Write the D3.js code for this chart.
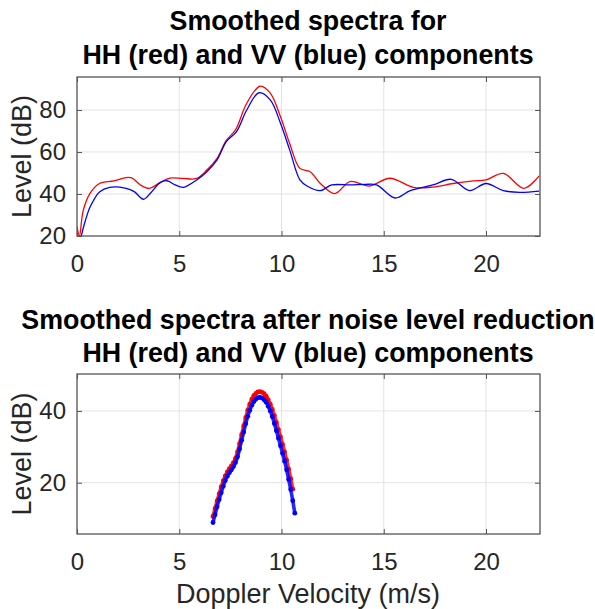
<!DOCTYPE html>
<html>
<head>
<meta charset="utf-8">
<script src="https://cdn.jsdelivr.net/npm/d3@7"></script>
<style>
  body { margin: 0; background: #fff; }
  text { font-family: 'Liberation Sans', Arial, Helvetica, sans-serif; fill: #262626; }
  .title { font-weight: bold; font-size: 26.8px; fill: #000; }
  .axis text { font-size: 24px; }
  .axis path, .axis line { stroke: #555; }
</style>
</head>
<body>
<div id="chart"></div>
<script>
// top panel: smoothed spectra, [velocity m/s, level dB]
var hhSmooth = [[0, 24.4], [0.12, 20.2], [0.3, 32], [0.65, 40.5], [1.1, 45], [1.8, 46.2], [2.4, 47.8], [2.7, 47.6],
  [3.1, 44.3], [3.55, 42.7], [4.05, 45.4], [4.55, 47.6], [5.2, 47.4], [5.85, 47.4], [6.35, 51.4], [6.85, 57],
  [7.3, 65.5], [7.75, 70.5], [8.3, 83.2], [8.95, 91.3], [9.45, 88], [9.95, 76.8], [10.4, 64], [10.9, 52.2],
  [11.4, 50.6], [11.9, 45], [12.6, 40.2], [13.35, 45.9], [14.3, 43.8], [15.3, 47.5], [16.45, 43.2], [17.4, 43.3],
  [18.4, 45], [19.4, 46.2], [20.0, 46.7], [20.85, 49.8], [21.85, 42.7], [22.6, 48.6]]
var vvSmooth = [[0.2, 19.7], [0.4, 27], [0.65, 34], [1.1, 41], [1.6, 43.2], [2.4, 42.7], [2.8, 41.1], [3.25, 37.5],
  [3.6, 40.5], [4.05, 45.3], [4.4, 46.3], [4.8, 44.3], [5.2, 43.2], [5.85, 46.7], [6.35, 50.6], [6.85, 56.2],
  [7.3, 64.9], [7.8, 69.7], [8.3, 80], [8.9, 88.2], [9.45, 84.8], [9.95, 73.7], [10.4, 61], [10.9, 46.7],
  [11.25, 43.8], [11.9, 41.6], [12.45, 44.3], [13.35, 44.3], [14.1, 44.6], [14.65, 44.3], [15.55, 38.1], [16.3, 41.6],
  [17.4, 44.3], [18.3, 47], [19.2, 41.6], [20.0, 45], [20.85, 41.6], [21.65, 40.8], [22.6, 41.4]]

// bottom panel: after noise reduction (dense dot markers)
var redVel = [6.65, 6.75, 6.85, 6.95, 7.05, 7.15, 7.25, 7.35, 7.45, 7.55, 7.65, 7.75, 7.85, 7.95, 8.05, 8.15, 8.25,
  8.35, 8.45, 8.55, 8.65, 8.75, 8.85, 8.95, 9.05, 9.15, 9.25, 9.35, 9.45, 9.55, 9.65, 9.75, 9.85, 9.95, 10.05,
  10.15, 10.25, 10.35, 10.45, 10.55]
var redLevel = [10.6, 12.8, 14.9, 16.9, 18.8, 20.5, 21.9, 23.0, 23.9, 24.7, 25.6, 26.8, 28.6, 30.9, 33.4, 35.8,
  38.1, 40.2, 41.9, 43.3, 44.3, 44.9, 45.3, 45.4, 45.2, 44.8, 44.1, 43.1, 41.9, 40.4, 38.7, 36.8, 34.8, 32.8,
  30.7, 28.6, 26.3, 23.8, 21.1, 18.2]
var blueVel = [6.65, 6.75, 6.85, 6.95, 7.05, 7.15, 7.25, 7.35, 7.45, 7.55, 7.65, 7.75, 7.85, 7.95, 8.05, 8.15, 8.25,
  8.35, 8.45, 8.55, 8.65, 8.75, 8.85, 8.95, 9.05, 9.15, 9.25, 9.35, 9.45, 9.55, 9.65, 9.75, 9.85, 9.95, 10.05,
  10.15, 10.25, 10.35, 10.45, 10.55, 10.65]
var blueLevel = [8.9, 11.1, 13.3, 15.3, 17.2, 19.0, 20.6, 21.8, 22.8, 23.6, 24.5, 25.6, 27.2, 29.4, 31.8, 34.1,
  36.4, 38.5, 40.2, 41.6, 42.6, 43.3, 43.7, 43.8, 43.6, 43.1, 42.4, 41.3, 40.0, 38.4, 36.5, 34.5, 32.4, 30.3,
  28.2, 26.0, 23.6, 20.9, 18.1, 15.0, 11.5]

var xTicks = [0, 5, 10, 15, 20]
var topYTicks = [20, 40, 60, 80]
var bottomYTicks = [20, 40]

var width = 595
var height = 609

var svg = d3.select('#chart')
  .append('svg')
  .attr('width', width)
  .attr('height', height)

var xScale = d3.scaleLinear().domain([0, 22.64]).range([77, 540])

function drawPanel (opts) {
  var y = d3.scaleLinear().domain(opts.yDomain).range([opts.bottom, opts.top])
  var g = svg.append('g')

  // grid
  g.selectAll('.vgrid').data(xTicks.slice(1)).enter().append('line')
    .attr('x1', d => xScale(d)).attr('x2', d => xScale(d))
    .attr('y1', opts.top).attr('y2', opts.bottom)
    .attr('stroke', '#e3e3e3').attr('stroke-width', 1)
  g.selectAll('.hgrid').data(opts.yTicks.filter(d => y(d) < opts.bottom - 1)).enter().append('line')
    .attr('y1', d => y(d)).attr('y2', d => y(d))
    .attr('x1', xScale.range()[0]).attr('x2', xScale.range()[1])
    .attr('stroke', '#e3e3e3').attr('stroke-width', 1)

  var clipId = 'clip' + opts.id
  svg.append('clipPath').attr('id', clipId).append('rect')
    .attr('x', xScale.range()[0]).attr('y', opts.top)
    .attr('width', xScale.range()[1] - xScale.range()[0])
    .attr('height', opts.bottom - opts.top)

  var plot = g.append('g').attr('clip-path', 'url(#' + clipId + ')')
  opts.draw(plot, y)

  // axes with inward ticks on all four sides
  var xAxis = d3.axisBottom(xScale).tickValues(xTicks).tickSizeInner(-5).tickSizeOuter(0).tickPadding(19)
  g.append('g').attr('class', 'axis').attr('transform', 'translate(0,' + opts.bottom + ')').call(xAxis)
  g.append('g').attr('class', 'axis').attr('transform', 'translate(0,' + opts.top + ')')
    .call(d3.axisTop(xScale).tickValues(xTicks).tickSizeInner(-5).tickSizeOuter(0).tickFormat(''))
  g.append('g').attr('class', 'axis').attr('transform', 'translate(' + xScale.range()[0] + ',0)')
    .call(d3.axisLeft(y).tickValues(opts.yTicks).tickSizeInner(-5).tickSizeOuter(0).tickPadding(11))
  g.append('g').attr('class', 'axis').attr('transform', 'translate(' + xScale.range()[1] + ',0)')
    .call(d3.axisRight(y).tickValues(opts.yTicks).tickSizeInner(-5).tickSizeOuter(0).tickFormat(''))
  g.selectAll('.axis .domain').remove()
  g.append('rect')
    .attr('x', xScale.range()[0]).attr('y', opts.top)
    .attr('width', xScale.range()[1] - xScale.range()[0])
    .attr('height', opts.bottom - opts.top)
    .attr('fill', 'none').attr('stroke', '#555').attr('stroke-width', 1.3)

  g.append('text').attr('class', 'ylabel')
    .attr('transform', 'translate(' + opts.ylabelX + ',' + ((opts.top + opts.bottom) / 2) + ') rotate(-90)')
    .attr('text-anchor', 'middle').attr('dy', '0.35em')
    .style('font-size', '27px')
    .text('Level (dB)')

  opts.titles.forEach(function (t, i) {
    g.append('text').attr('class', 'title')
      .attr('x', 308).attr('y', opts.titleY[i])
      .attr('text-anchor', 'middle')
      .text(t)
  })
}

var line = d3.line().x(d => xScale(d[0])).y(d => 0).curve(d3.curveCatmullRom.alpha(0.5))

drawPanel({
  id: 'top',
  top: 77,
  bottom: 236,
  yDomain: [20, 95.7],
  yTicks: topYTicks,
  ylabelX: 22,
  titles: ['Smoothed spectra for', 'HH (red) and VV (blue) components'],
  titleY: [30, 64],
  draw: function (plot, y) {
    line.y(d => y(d[1]))
    plot.append('path').datum(hhSmooth).attr('d', line)
      .attr('fill', 'none').attr('stroke', '#ff0000').attr('stroke-width', 1.3)
    plot.append('path').datum(vvSmooth).attr('d', line)
      .attr('fill', 'none').attr('stroke', '#0000ff').attr('stroke-width', 1.3)
  }
})

drawPanel({
  id: 'bottom',
  top: 374,
  bottom: 534,
  yDomain: [5.7, 50.3],
  yTicks: bottomYTicks,
  ylabelX: 22,
  titles: ['Smoothed spectra after noise level reduction', 'HH (red) and VV (blue) components'],
  titleY: [329, 362],
  draw: function (plot, y) {
    var dotLine = d3.line().x(d => xScale(d[0])).y(d => y(d[1])).curve(d3.curveCatmullRom.alpha(0.5))
    var series = [
      { vel: redVel, level: redLevel, color: '#ff0000' },
      { vel: blueVel, level: blueLevel, color: '#0000ff' }
    ]
    series.forEach(function (s) {
      var pts = s.vel.map((v, i) => [v, s.level[i]])
      // the markers sit so close together that they read as a thick dotted band
      plot.append('path').datum(pts).attr('d', dotLine)
        .attr('fill', 'none').attr('stroke', s.color).attr('stroke-width', 3.6)
        .attr('stroke-linecap', 'round').attr('stroke-opacity', 0.85)
      plot.selectAll(null).data(pts).enter().append('circle')
        .attr('cx', d => xScale(d[0])).attr('cy', d => y(d[1]))
        .attr('r', 2.4).attr('fill', s.color)
    })
  }
})

svg.append('text')
  .attr('x', 308).attr('y', 603)
  .attr('text-anchor', 'middle')
  .style('font-size', '27px')
  .text('Doppler Velocity (m/s)')
</script>
</body>
</html>
